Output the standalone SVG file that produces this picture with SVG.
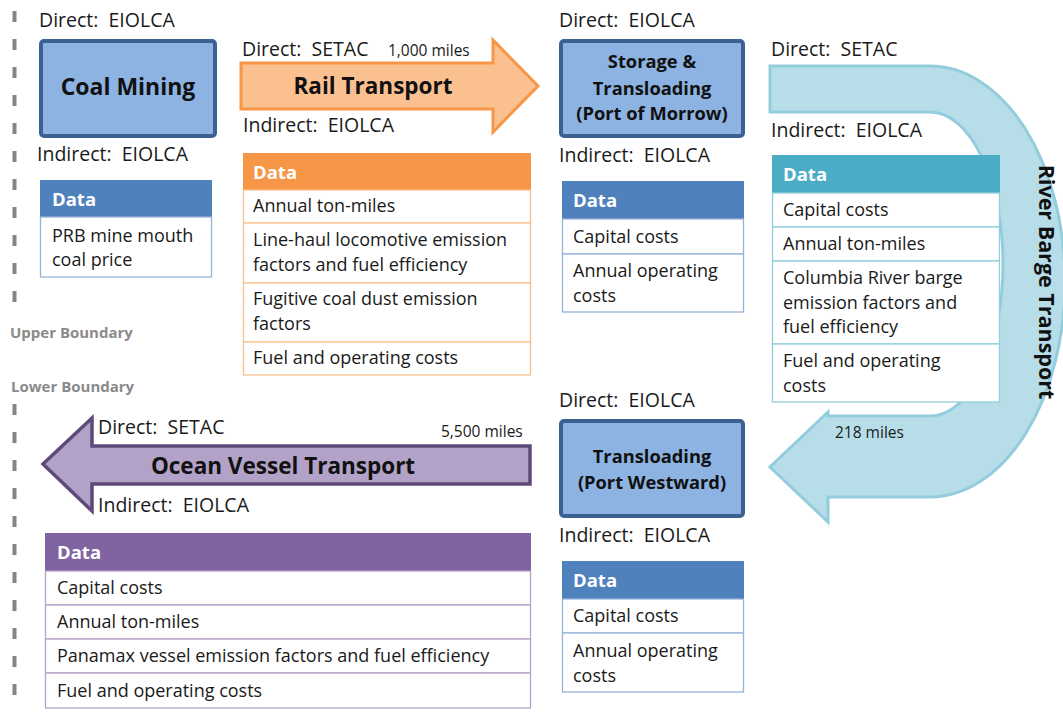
<svg xmlns="http://www.w3.org/2000/svg" width="1063" height="712" viewBox="0 0 1063 712" xml:space="preserve">
<style>
text{font-family:"Open Sans","Liberation Sans",sans-serif;fill:#1a1a1a;white-space:pre}
.lbl{font-size:19.5px}
.sm{font-size:15.5px}
.row{font-size:18px}
.hd{font-size:18.5px;font-weight:bold;fill:#fff}
.ttl{font-size:22.5px;font-weight:bold;text-anchor:middle;fill:#111}
.ttl2{font-size:18.3px;font-weight:bold;text-anchor:middle;fill:#111}
.rv{font-size:21.5px;font-weight:bold;text-anchor:middle;fill:#111}
.bnd{font-size:15px;font-weight:bold;fill:#8a8a8a}
.box{fill:#8db3e2;stroke:#3b6193;stroke-width:4}
.dash{stroke:#858585;stroke-width:4;stroke-dasharray:11 17}
</style>
<g id="boundary">
<line class="dash" x1="14.5" y1="11" x2="14.5" y2="318"/>
<line class="dash" x1="14.5" y1="404" x2="14.5" y2="712"/>
<text class="bnd" x="10" y="338">Upper Boundary</text>
<text class="bnd" x="11" y="392">Lower Boundary</text>
</g>
<g id="connectors">
<g id="rail-arrow">
<polygon points="241,63 493,63 493,40 538,86 493,132 493,109 241,109" fill="#fac090" stroke="#f79646" stroke-width="3"/>
<text class="ttl" x="373" y="94">Rail Transport</text>
</g>
<g id="river-arrow">
<path d="M770 66 H930 A135 215.5 0 0 1 930 497 H828 V522 L770 467 L828 412 V416 H930 A73 152 0 0 0 930 112 H770 Z" fill="#b7dee8" stroke="#93cddd" stroke-width="3"/>
<text class="rv" transform="translate(1039,282) rotate(90)">River Barge Transport</text>
</g>
<g id="ocean-arrow">
<polygon points="530,446 92,446 92,418 43,464 92,511 92,484 530,484" fill="#b3a2c7" stroke="#5f497a" stroke-width="3.5"/>
<text class="ttl" x="283" y="474">Ocean Vessel Transport</text>
</g>
</g>
<g id="coal-mining">
<text class="lbl" x="39" y="27">Direct:  EIOLCA</text>
<rect class="box" x="41" y="41" width="174" height="95" rx="3"/>
<text class="ttl" x="128" y="95" style="font-size:23px">Coal Mining</text>
<text class="lbl" x="37" y="161">Indirect:  EIOLCA</text>
</g>
<g id="coal-data">
<rect x="40" y="180" width="172" height="37" fill="#4f81bd"/>
<text class="hd" x="52" y="206">Data</text>
<rect x="40.5" y="217" width="171" height="60" fill="#fff" stroke="#95b3d7" stroke-width="1.3"/>
<text class="row" x="52" y="242">PRB mine mouth</text>
<text class="row" x="52" y="266">coal price</text>
</g>
<g id="rail-labels">
<text class="lbl" x="242" y="56">Direct:  SETAC</text>
<text class="sm" x="388" y="56">1,000 miles</text>
<text class="lbl" x="243" y="132">Indirect:  EIOLCA</text>
</g>
<g id="rail-data">
<rect x="243" y="153" width="288" height="37" fill="#f79646"/>
<text class="hd" x="253" y="179">Data</text>
<g stroke="#f9c08f" fill="#fff" stroke-width="1.3">
<rect x="243.5" y="190" width="287" height="33"/>
<rect x="243.5" y="223" width="287" height="60"/>
<rect x="243.5" y="283" width="287" height="59"/>
<rect x="243.5" y="342" width="287" height="33"/>
</g>
<text class="row" x="253" y="212">Annual ton-miles</text>
<text class="row" x="253" y="246">Line-haul locomotive emission</text>
<text class="row" x="253" y="271">factors and fuel efficiency</text>
<text class="row" x="253" y="305">Fugitive coal dust emission</text>
<text class="row" x="253" y="330">factors</text>
<text class="row" x="253" y="364">Fuel and operating costs</text>
</g>
<g id="storage">
<text class="lbl" x="559" y="27">Direct:  EIOLCA</text>
<rect class="box" x="561" y="41" width="182" height="95" rx="3"/>
<text class="ttl2" x="652" y="68">Storage &amp;</text>
<text class="ttl2" x="652" y="95">Transloading</text>
<text class="ttl2" x="652" y="120">(Port of Morrow)</text>
<text class="lbl" x="559" y="162">Indirect:  EIOLCA</text>
</g>
<g id="storage-data">
<rect x="562" y="181" width="182" height="38" fill="#4f81bd"/>
<text class="hd" x="573" y="207">Data</text>
<g stroke="#95b3d7" fill="#fff" stroke-width="1.3">
<rect x="562.5" y="219" width="181" height="35"/>
<rect x="562.5" y="254" width="181" height="58"/>
</g>
<text class="row" x="573" y="243">Capital costs</text>
<text class="row" x="573" y="277">Annual operating</text>
<text class="row" x="573" y="302">costs</text>
</g>
<g id="river-labels">
<text class="lbl" x="771" y="56">Direct:  SETAC</text>
<text class="lbl" x="771" y="137">Indirect:  EIOLCA</text>
<text class="sm" x="835" y="438">218 miles</text>
</g>
<g id="river-data">
<rect x="772" y="155" width="228" height="38" fill="#4bacc6"/>
<text class="hd" x="783" y="181">Data</text>
<g stroke="#92cddc" fill="#fff" stroke-width="1.3">
<rect x="772.5" y="193" width="227" height="34"/>
<rect x="772.5" y="227" width="227" height="34"/>
<rect x="772.5" y="261" width="227" height="83"/>
<rect x="772.5" y="344" width="227" height="58"/>
</g>
<text class="row" x="783" y="216">Capital costs</text>
<text class="row" x="783" y="250">Annual ton-miles</text>
<text class="row" x="783" y="284">Columbia River barge</text>
<text class="row" x="783" y="309">emission factors and</text>
<text class="row" x="783" y="333">fuel efficiency</text>
<text class="row" x="783" y="367">Fuel and operating</text>
<text class="row" x="783" y="392">costs</text>
</g>
<g id="transloading">
<text class="lbl" x="559" y="407">Direct:  EIOLCA</text>
<rect class="box" x="561" y="421" width="182" height="95" rx="3"/>
<text class="ttl2" x="652" y="463">Transloading</text>
<text class="ttl2" x="652" y="489">(Port Westward)</text>
<text class="lbl" x="559" y="542">Indirect:  EIOLCA</text>
</g>
<g id="transloading-data">
<rect x="562" y="561" width="182" height="38" fill="#4f81bd"/>
<text class="hd" x="573" y="587">Data</text>
<g stroke="#95b3d7" fill="#fff" stroke-width="1.3">
<rect x="562.5" y="599" width="181" height="34"/>
<rect x="562.5" y="633" width="181" height="59"/>
</g>
<text class="row" x="573" y="622">Capital costs</text>
<text class="row" x="573" y="657">Annual operating</text>
<text class="row" x="573" y="682">costs</text>
</g>
<g id="ocean-labels">
<text class="lbl" x="98" y="434">Direct:  SETAC</text>
<text class="sm" x="441" y="437">5,500 miles</text>
<text class="lbl" x="98" y="512">Indirect:  EIOLCA</text>
</g>
<g id="ocean-data">
<rect x="45" y="533" width="486" height="38" fill="#8064a2"/>
<text class="hd" x="57" y="559">Data</text>
<g stroke="#b3a2c7" fill="#fff" stroke-width="1.3">
<rect x="45.5" y="571" width="485" height="34"/>
<rect x="45.5" y="605" width="485" height="34"/>
<rect x="45.5" y="639" width="485" height="34"/>
<rect x="45.5" y="673" width="485" height="35"/>
</g>
<text class="row" x="57" y="594">Capital costs</text>
<text class="row" x="57" y="628">Annual ton-miles</text>
<text class="row" x="57" y="662">Panamax vessel emission factors and fuel efficiency</text>
<text class="row" x="57" y="697">Fuel and operating costs</text>
</g>
</svg>
